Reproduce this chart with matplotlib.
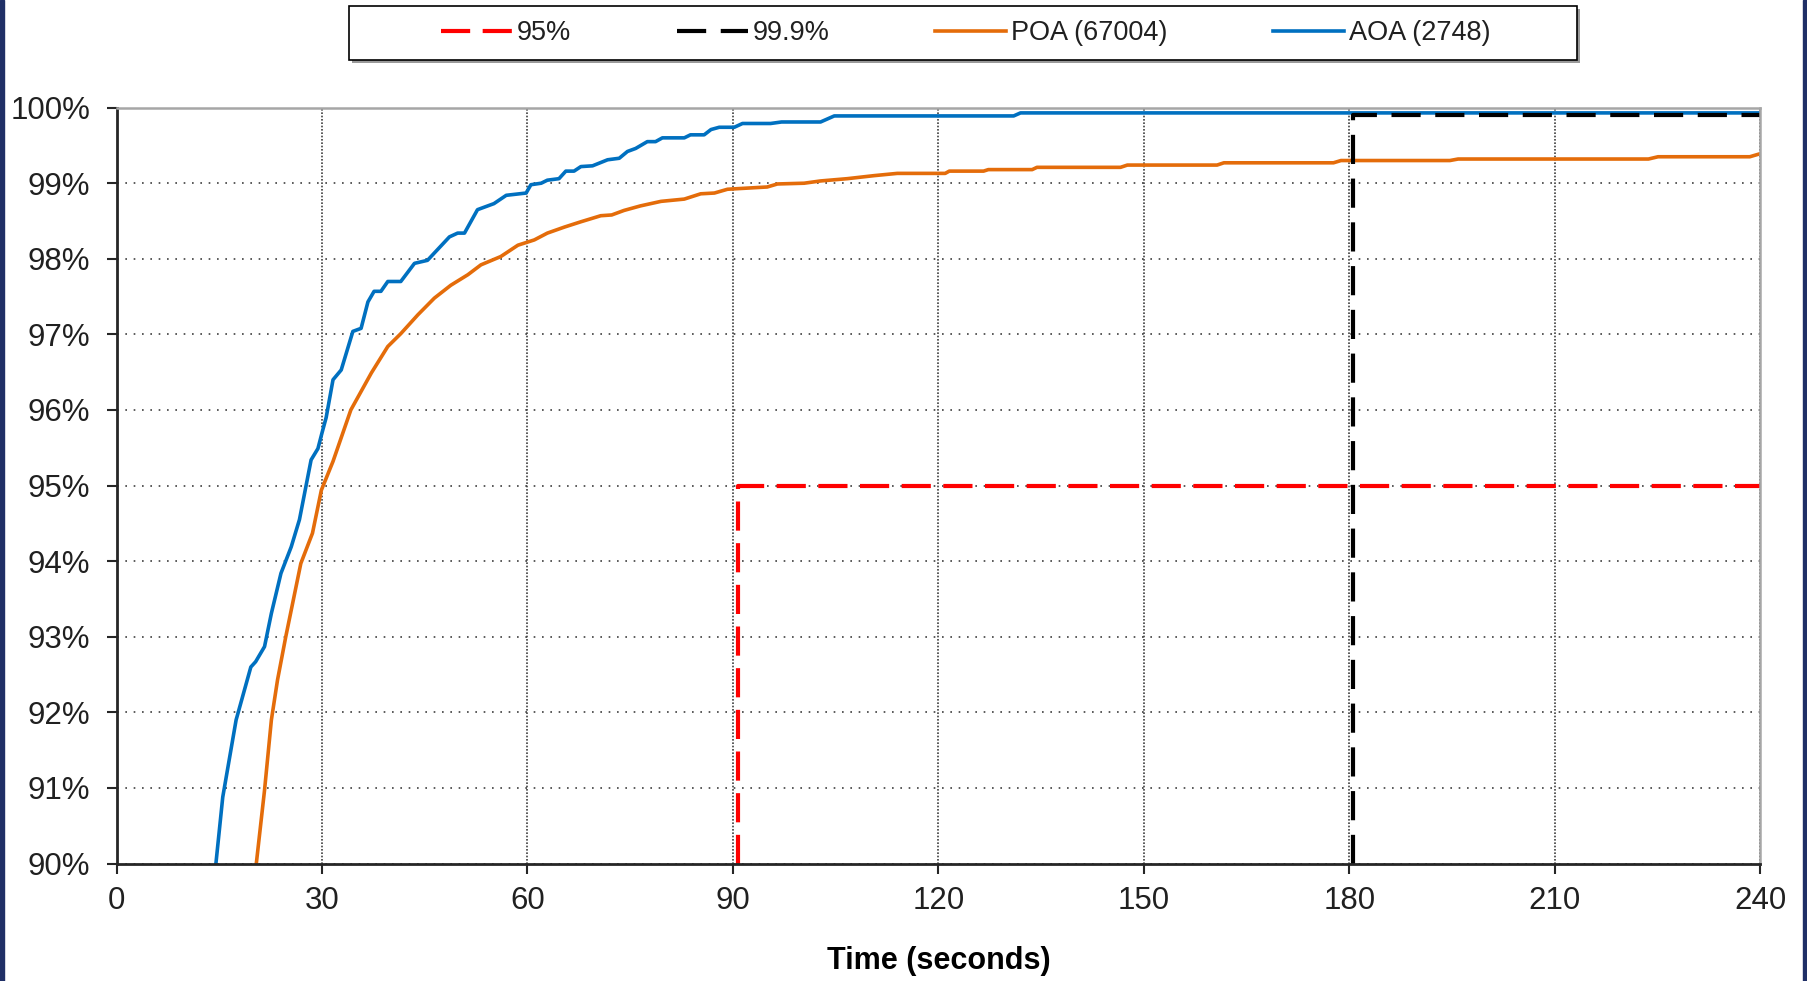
import matplotlib
matplotlib.use("Agg")
import matplotlib.pyplot as plt
from matplotlib.patches import Rectangle
from matplotlib.ticker import FuncFormatter

plt.rcParams['font.family'] = ['Liberation Sans', 'DejaVu Sans']

#=========================== DATA ===========================

# AOA (2748) - time in seconds, cumulative percent
aoa_t = [14.5, 15.5, 17.45, 19.6, 20.3, 21.6, 22.6, 24.0, 25.5, 26.7, 28.4, 29.4,
         30.0, 30.6, 31.6, 32.8, 34.5, 35.7, 36.7, 37.6, 38.6, 39.6, 41.5, 43.5,
         45.4, 48.6, 49.8, 50.8, 52.7, 55.1, 56.9, 59.8, 60.5, 62.0, 62.9, 64.6,
         65.6, 66.8, 67.8, 69.5, 71.7, 73.4, 74.6, 75.8, 77.5, 78.7, 79.7, 82.9,
         83.8, 85.8, 86.8, 88.0, 90.2, 91.4, 95.5, 97.1, 102.8, 104.8, 131.0, 132.0,
         240.0]
aoa_v = [90.0, 90.88, 91.9, 92.6, 92.67, 92.87, 93.31, 93.84, 94.19, 94.55, 95.34, 95.49,
         95.7, 95.9, 96.4, 96.53, 97.04, 97.08, 97.43, 97.57, 97.57, 97.70, 97.70, 97.94,
         97.98, 98.29, 98.34, 98.34, 98.65, 98.73, 98.84, 98.87, 98.98, 99.0, 99.04, 99.06,
         99.16, 99.16, 99.22, 99.23, 99.31, 99.33, 99.42, 99.46, 99.55, 99.55, 99.60, 99.60,
         99.64, 99.64, 99.71, 99.74, 99.74, 99.79, 99.79, 99.81, 99.81, 99.89, 99.89, 99.93,
         99.93]

# POA (67004)
poa_t = [20.4, 21.6, 22.6, 23.5, 24.7, 26.9, 28.6, 29.9, 31.6, 34.2, 37.2, 39.6,
         41.5, 44.0, 46.4, 48.8, 51.3, 53.2, 56.1, 58.6, 61.0, 62.9, 65.4, 67.8,
         70.7, 72.3, 74.1, 76.5, 79.5, 82.9, 85.3, 87.3, 89.2, 91.1, 95.0, 96.5,
         100.4, 102.8, 106.7, 110.6, 114.0, 121.0, 121.6, 126.6, 127.3, 133.7, 134.4,
         146.6, 147.6, 160.7, 161.7, 177.7, 178.8, 194.7, 195.9, 223.7, 225.1, 238.5,
         240.0]
poa_v = [90.0, 90.97, 91.9, 92.43, 93.0, 93.97, 94.37, 94.94, 95.32, 96.0, 96.49, 96.84,
         97.01, 97.26, 97.48, 97.65, 97.79, 97.92, 98.03, 98.18, 98.25, 98.34, 98.42, 98.49,
         98.57, 98.58, 98.64, 98.70, 98.76, 98.79, 98.86, 98.87, 98.92, 98.93, 98.95, 98.99,
         99.0, 99.03, 99.06, 99.10, 99.13, 99.13, 99.16, 99.16, 99.18, 99.18, 99.21,
         99.21, 99.24, 99.24, 99.27, 99.27, 99.30, 99.30, 99.32, 99.32, 99.35, 99.35,
         99.39]

# threshold markers
p95_t = [90.7, 90.7, 240.0]
p95_v = [90.0, 95.0, 95.0]
p999_t = [180.5, 180.5, 240.0]
p999_v = [90.0, 99.9, 99.9]

x_ticks = [0, 30, 60, 90, 120, 150, 180, 210, 240]
y_ticks = [90, 91, 92, 93, 94, 95, 96, 97, 98, 99, 100]

#=========================== PLOT ===========================

fig = plt.figure(figsize=(18.08, 9.81), dpi=100)
ax = fig.add_axes([0.0645, 0.1197, 0.909, 0.7706])

ax.plot(poa_t, poa_v, color="#E46C0A", lw=2.6, solid_joinstyle="round", label="POA (67004)")
ax.plot(aoa_t, aoa_v, color="#0070C0", lw=2.6, solid_joinstyle="round", label="AOA (2748)")
l95, = ax.plot(p95_t, p95_v, color="#FF0000", lw=3, dashes=(7, 3), label="95%")
l999, = ax.plot(p999_t, p999_v, color="black", lw=3, dashes=(7, 3.5), label="99.9%")

ax.set_xlim(0, 240)
ax.set_ylim(90, 100)
ax.set_xticks(x_ticks)
ax.set_yticks(y_ticks)
ax.yaxis.set_major_formatter(FuncFormatter(lambda v, p: "%d%%" % v))

ax.xaxis.grid(True, color="#404040", lw=1.2, linestyle=(0, (1, 1)))
ax.yaxis.grid(True, color="#404040", lw=1.2, linestyle=(0, (1, 4)))
ax.set_axisbelow(True)

for s in ["left", "bottom"]:
    ax.spines[s].set_color("#262626")
    ax.spines[s].set_linewidth(2.0)
for s in ["top", "right"]:
    ax.spines[s].set_color("#a6a6a6")
    ax.spines[s].set_linewidth(1.8)

ax.tick_params(axis="both", direction="out", length=7, width=1.5, color="#262626",
               labelsize=22.5, labelcolor="#202020")
ax.tick_params(axis="y", pad=12)
ax.tick_params(axis="x", pad=9)

ax.set_xlabel("Time (seconds)", fontsize=22, fontweight="bold", labelpad=22)

# legend box drawn by hand, entries laid out by matplotlib
fig.add_artist(Rectangle((352 / 1808, 1 - 63 / 981), 1228 / 1808, 54 / 981,
                         transform=fig.transFigure, facecolor="#9a9a9a", edgecolor="none"))
fig.add_artist(Rectangle((349 / 1808, 1 - 60 / 981), 1228 / 1808, 54 / 981,
                         transform=fig.transFigure, facecolor="white", edgecolor="black", lw=1.2))

handles = [l95, l999] + ax.get_lines()[:2]
leg = fig.legend(handles, [h.get_label() for h in handles], loc="center",
                 bbox_to_anchor=(966 / 1808, 1 - 33 / 981), ncol=4, frameon=False,
                 fontsize=19.5, handlelength=2.6, handletextpad=0.2, columnspacing=3.9,
                 labelcolor="#202020")

# dark frame strips at the figure edges
fig.add_artist(Rectangle((0, 0), 4 / 1808, 1, transform=fig.transFigure, color="#1f2f66"))
fig.add_artist(Rectangle((1 - 5 / 1808, 0), 5 / 1808, 1, transform=fig.transFigure, color="#1f2f66"))

plt.savefig("out.png", dpi=100)
